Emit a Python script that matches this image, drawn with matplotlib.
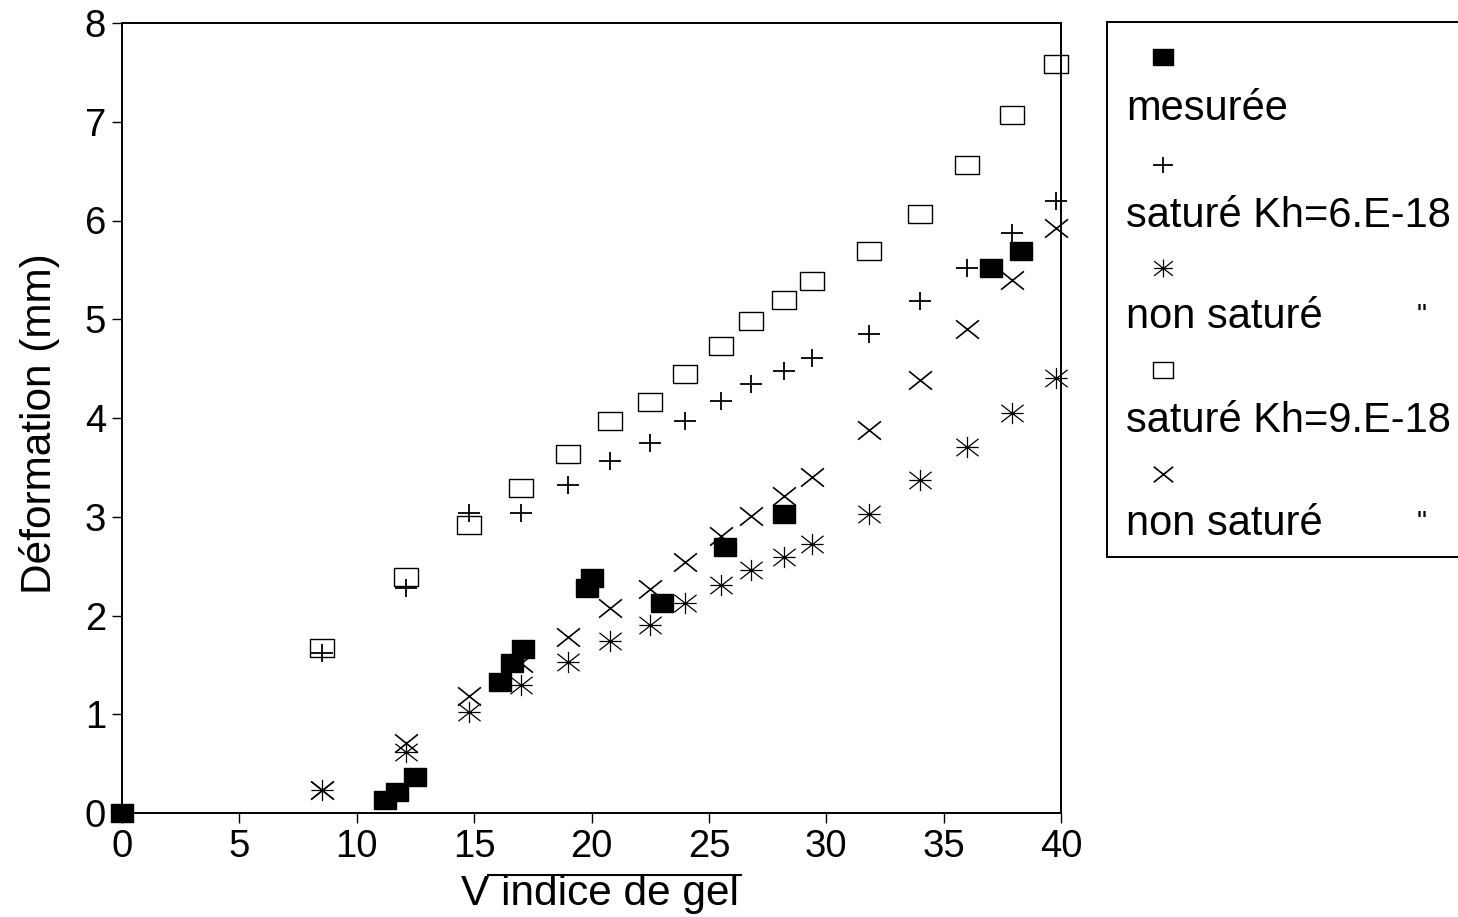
import numpy as np
import matplotlib.pyplot as plt
from matplotlib.path import Path
from matplotlib.lines import Line2D

plt.rcParams['font.family'] = ['Liberation Sans', 'DejaVu Sans']

# déformations mesurées
x_mes = [0, 11.2, 11.7, 12.5, 16.1, 16.6, 17.1, 19.8, 20.0, 23.0, 25.7, 28.2, 37.0, 38.3]
y_mes = [0, 0.13, 0.21, 0.36, 1.33, 1.52, 1.66, 2.28, 2.38, 2.13, 2.69, 3.03, 5.52, 5.69]

# calculs (racine de l'indice de gel)
x_calc = [8.5, 12.1, 14.8, 17.0, 19.0, 20.8, 22.5, 24.0, 25.5, 26.8,
          28.2, 29.4, 31.8, 34.0, 36.0, 37.9, 39.8]
y_sat6 = [1.62, 2.28, 3.04, 3.04, 3.32, 3.56, 3.75, 3.97, 4.17, 4.34,
          4.48, 4.61, 4.85, 5.18, 5.52, 5.87, 6.20]
y_nsat6 = [0.23, 0.62, 1.02, 1.30, 1.53, 1.74, 1.90, 2.13, 2.31, 2.46,
           2.59, 2.72, 3.03, 3.37, 3.71, 4.05, 4.40]
y_sat9 = [1.67, 2.39, 2.92, 3.29, 3.64, 3.97, 4.16, 4.45, 4.73, 4.98,
          5.19, 5.39, 5.69, 6.07, 6.56, 7.07, 7.58]
y_nsat9 = [0.23, 0.71, 1.18, 1.52, 1.78, 2.08, 2.27, 2.54, 2.81, 3.01,
           3.21, 3.40, 3.88, 4.38, 4.90, 5.40, 5.92]

labels = ['mesurée', 'saturé Kh=6.E-18', 'non saturé', 'saturé Kh=9.E-18', 'non saturé']

# marqueurs un peu plus larges que hauts
M, L = Path.MOVETO, Path.LINETO
rect = Path([(-1.25, -1), (1.25, -1), (1.25, 1), (-1.25, 1), (-1.25, -1)], [M, L, L, L, L])
plus = Path([(-1.25, 0), (1.25, 0), (0, -1), (0, 1)], [M, L, M, L])
croix = Path([(-1.25, -1), (1.25, 1), (-1.25, 1), (1.25, -1)], [M, L, M, L])
etoile = Path([(-1.15, 0), (1.15, 0), (0, -1.1), (0, 1.1),
               (-1.15, -0.9), (1.15, 0.9), (-1.15, 0.9), (1.15, -0.9)],
              [M, L, M, L, M, L, M, L])

styles = [
    dict(marker=rect, markersize=16.5, mfc='black', mec='black', mew=1.0),
    dict(marker=plus, markersize=16.5, mfc='none', mec='black', mew=1.3),
    dict(marker=etoile, markersize=16, mfc='none', mec='black', mew=0.9),
    dict(marker=rect, markersize=17, mfc='none', mec='black', mew=1.0),
    dict(marker=croix, markersize=16.5, mfc='none', mec='black', mew=1.2),
]

W, H = 1458, 917
fig = plt.figure(figsize=(W / 100, H / 100), dpi=100)
ax = fig.add_axes([122 / W, 1 - 813 / H, (1061 - 122) / W, (813 - 23) / H])

series = [(x_mes, y_mes), (x_calc, y_sat6), (x_calc, y_nsat6), (x_calc, y_sat9), (x_calc, y_nsat9)]
for (xs, ys), st in zip(series, styles):
    ax.plot(xs, ys, linestyle='none', clip_on=False, **st)

ax.set_xlim(0, 40)
ax.set_ylim(0, 8)
ax.set_xticks(np.arange(0, 41, 5))
ax.set_yticks(np.arange(0, 9, 1))
ax.tick_params(direction='out', length=7.5, width=1.0, labelsize=27.5, pad=4,
               top=False, right=False)
for s in ax.spines.values():
    s.set_linewidth(1.4)

yl = ax.set_ylabel('Déformation (mm)', fontsize=30.5)
yl.set_va('center')
ax.yaxis.set_label_coords((40 - 122) / 939, (813 - 424) / 790)

xl = ax.set_xlabel('V indice de gel', fontsize=30.5)
xl.set_va('baseline')
ax.xaxis.set_label_coords((600 - 122) / 939, (813 - 905) / 790)

# barre du radical au-dessus de « indice de gel »
fig.canvas.draw()
r = fig.canvas.get_renderer()
bb = xl.get_window_extent(r)
tv = fig.text(0, 0, 'V', fontsize=30.5)
v_w = tv.get_window_extent(r).width
tv.remove()
base_px = ax.transAxes.transform(ax.xaxis.label.get_position())[1]
y_bar = base_px + 0.72 * 30.5 * 100 / 72
fig.add_artist(Line2D([(bb.x0 + v_w * 0.95) / W, (bb.x1 + 2) / W],
                      [y_bar / H, y_bar / H],
                      transform=fig.transFigure, color='black', lw=1.5))

# légende : marqueur au-dessus du libellé
lg = fig.add_axes([1107 / W, 1 - 557 / H, 0.3, (557 - 22) / H])
lg.set_xlim(1107, 1107 + 0.3 * W)
lg.set_ylim(557, 22)
lg.set_xticks([])
lg.set_yticks([])
lg.spines['right'].set_visible(False)
for s in ['left', 'top', 'bottom']:
    lg.spines[s].set_linewidth(1.4)
lg.patch.set_alpha(0)

mark_y = [57, 165, 268, 370, 474]
base_y = [120, 227, 328, 432, 535]
leg_sizes = [14, 14, 13.5, 15, 14]
for st, my, by, lab, ms in zip(styles, mark_y, base_y, labels, leg_sizes):
    st = dict(st, markersize=ms)
    lg.plot([1163], [my], linestyle='none', clip_on=False, **st)
    lg.text(1126, by, lab, fontsize=30, va='baseline', ha='left')
    if lab == 'non saturé':
        lg.text(1422, by - 5, '"', fontsize=20, va='baseline', ha='center')

fig.savefig('out.png', dpi=100)
